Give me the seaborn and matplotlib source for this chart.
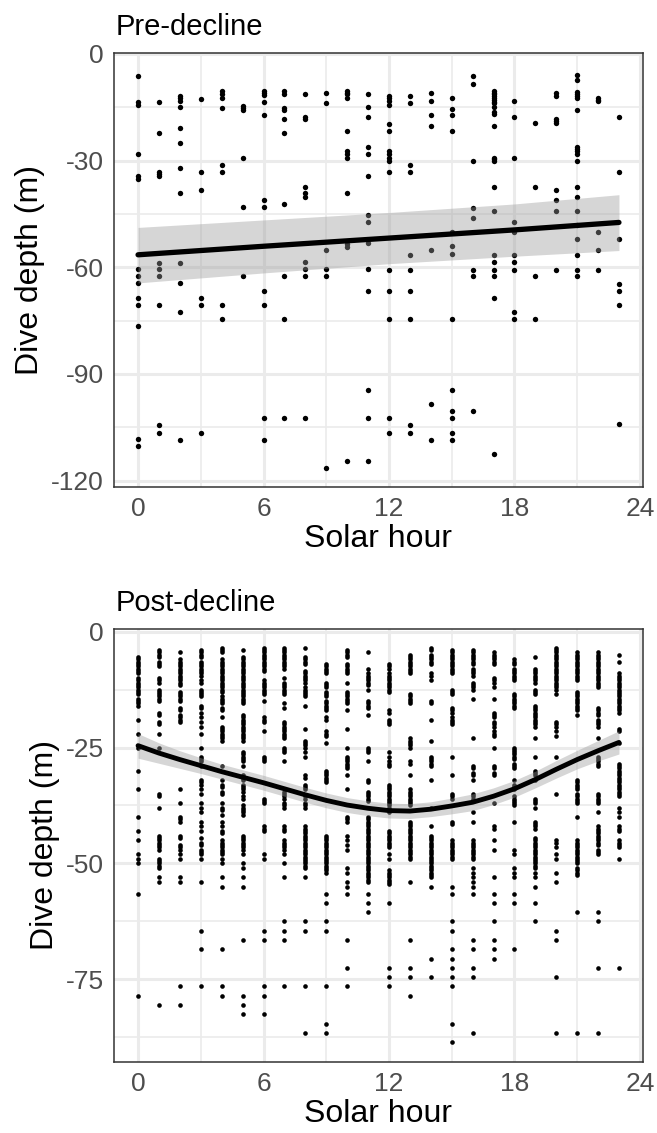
"""
Dive depth by solar hour, before and after the decline.
Two stacked panels in a ggplot theme_bw look.
"""

import numpy as np
import pandas as pd
import matplotlib
matplotlib.use("Agg")
import matplotlib.pyplot as plt
import seaborn as sns
from matplotlib.ticker import FixedLocator

HOURS = list(range(24))

# ---- Pre-decline dives (depth in m), one list per solar hour ----
PRE_00 = [-6.3, -13.4, -14.3, -28.2, -34.3, -35.2, -60.6, -62.6, -64.5, -68.6, -70.6, -76.6, -108.4, -110.4]
PRE_01 = [-13.4, -22.2, -33.1, -33.7, -34.4, -58.7, -60.6, -62.6, -70.6, -104.4, -106.5]
PRE_02 = [-11.8, -12.4, -13.3, -14.8, -20.8, -25.2, -32.2, -39.2, -58.7, -64.5, -72.6, -108.5]
PRE_03 = [-12.8, -33.2, -38.3, -68.6, -70.6, -106.5]
PRE_04 = [-10.3, -11.4, -12.4, -15.3, -31.2, -33.2, -70.6, -74.6]
PRE_05 = [-14.7, -15.3, -15.8, -29.2, -43.1, -62.6]
PRE_06 = [-10.3, -11.0, -11.7, -13.4, -17.3, -41.2, -43.1, -66.6, -70.6, -102.4, -108.5]
PRE_07 = [-10.3, -11.4, -15.3, -15.8, -18.3, -22.2, -42.2, -62.6, -74.6, -102.4]
PRE_08 = [-11.4, -17.8, -18.3, -37.3, -39.2, -40.2, -58.6, -60.6, -62.6, -102.4]
PRE_09 = [-10.9, -13.9, -55.2, -60.6, -62.6, -116.5]
PRE_10 = [-10.3, -10.9, -11.4, -12.4, -21.8, -27.2, -28.2, -29.2, -39.2, -53.6, -54.2, -114.4]
PRE_11 = [-11.4, -14.8, -17.8, -26.3, -28.2, -34.3, -45.2, -47.2, -53.2, -60.6, -66.6, -94.5, -102.4, -114.4]
PRE_12 = [-11.8, -12.4, -13.3, -14.3, -19.8, -21.8, -27.3, -28.2, -29.2, -30.2, -33.3, -60.7, -66.6, -74.6,
          -102.4, -106.5]
PRE_13 = [-11.8, -13.9, -31.2, -33.3, -56.6, -60.7, -66.6, -74.6, -104.5, -106.5]
PRE_14 = [-10.9, -13.3, -17.3, -20.3, -55.2, -98.5, -108.5]
PRE_15 = [-12.4, -15.4, -17.3, -21.8, -50.2, -54.1, -56.4, -74.6, -94.5, -100.4, -102.4, -106.5, -108.5]
PRE_16 = [-6.3, -8.4, -30.2, -43.2, -46.2, -60.7, -62.6, -100.4]
PRE_17 = [-10.3, -10.9, -11.4, -11.8, -12.4, -12.9, -13.4, -13.9, -14.8, -16.3, -16.9, -20.3, -29.2, -29.7,
          -30.2, -37.3, -44.2, -56.6, -58.6, -60.7, -62.6, -68.6, -112.5]
PRE_18 = [-13.3, -17.8, -29.2, -47.2, -50.2, -56.6, -58.6, -60.7, -72.6, -74.6]
PRE_19 = [-19.3, -37.3, -62.6, -74.6]
PRE_20 = [-10.9, -11.8, -18.3, -18.8, -19.3, -38.2, -41.2, -44.2, -60.7]
PRE_21 = [-5.9, -7.3, -10.8, -11.4, -11.8, -12.4, -15.8, -26.2, -26.7, -27.3, -28.2, -30.2, -37.3, -40.2,
          -44.2, -48.2, -52.1, -56.6, -60.7, -62.6]
PRE_22 = [-12.4, -12.9, -13.3, -50.2, -55.2, -60.7]
PRE_23 = [-17.8, -33.3, -52.1, -64.6, -66.6, -70.6, -104.0]

# linear fit and its confidence band
PRE_FIT_HOUR = [0, 6, 12, 18, 23]
PRE_FIT = [-56.5, -54.1, -51.8, -49.5, -47.4]
PRE_HIGH = [-48.8, -46.7, -44.6, -42.2, -39.6]
PRE_LOW = [-64.4, -61.6, -59.0, -56.9, -55.3]

# ---- Post-decline dives (depth in m), one list per solar hour ----
POST_00 = [-5.5, -6, -6.5, -7, -7.5, -8, -8.5, -9, -10, -10.5, -11, -11.5, -12, -12.5, -13, -13.5, -14.5, -15,
           -15.5, -16, -19, -22, -25, -30, -34, -40, -43, -45, -48, -49, -50, -56.5, -78.5]
POST_01 = [-4, -4.5, -5, -5.5, -6.5, -7, -7.5, -10, -10.5, -11, -12.5, -13, -13.5, -14, -14.5, -15, -17.5, -18,
           -19.5, -20, -22, -25, -35, -35.5, -38, -44, -44.5, -45, -45.5, -46, -46.5, -47, -49, -49.5, -50,
           -50.5, -51, -53, -54, -80.5]
POST_02 = [-4.5, -6, -6.5, -7, -7.5, -8, -8.5, -9, -9.5, -10, -10.5, -11, -11.5, -13, -13.5, -14, -14.5, -15,
           -16.5, -17, -18, -18.5, -19, -19.5, -34, -37, -40, -40.5, -41, -44, -44.5, -46, -46.5, -47, -48, -49,
           -53, -54, -76.5, -80.5]
POST_03 = [-4, -4.5, -5, -5.5, -6.5, -7, -7.5, -8, -8.5, -9, -9.5, -10.5, -11, -12.5, -13, -13.5, -14, -16,
           -16.5, -17.5, -18.5, -19.5, -20.5, -22, -25, -27, -27.5, -28, -29, -32, -32.5, -33, -34, -35, -37,
           -38, -39, -41, -42, -43, -44.5, -45.5, -46, -47, -47.5, -48, -49, -54, -64.5, -68.5, -76.5]
POST_04 = [-3.5, -4, -4.5, -6, -6.5, -7, -7.5, -8, -8.5, -9, -9.5, -10, -10.5, -11, -11.5, -12, -12.5, -13,
           -14, -14.5, -15, -15.5, -16.5, -17, -18.5, -20.5, -21, -21.5, -22, -22.5, -23, -23.5, -29, -32, -33,
           -33.5, -34.5, -35, -37, -38, -38.5, -39.5, -41, -42, -43, -43.5, -45, -45.5, -46, -46.5, -47, -47.5,
           -48, -49, -50, -53, -55, -68.5, -76.5, -78.5]
POST_05 = [-4, -5.5, -6, -6.5, -7, -7.5, -8, -8.5, -9, -9.5, -10, -10.5, -11, -11.5, -12, -12.5, -13, -13.5,
           -14, -14.5, -15, -15.5, -18, -18.5, -19, -19.5, -20, -20.5, -21, -21.5, -22, -22.5, -23, -23.5, -26,
           -26.5, -27, -27.5, -28, -29, -31, -31.5, -32, -33, -33.5, -34, -34.5, -35.5, -36, -37.5, -38, -38.5,
           -39, -39.5, -44, -44.5, -45, -45.5, -46, -46.5, -47, -48, -50, -51, -53, -55, -66.5, -78.5, -80.5,
           -82.5]
POST_06 = [-3.5, -4, -4.5, -5, -5.5, -6, -6.5, -7, -7.5, -8, -8.5, -10.5, -11, -11.5, -12, -12.5, -13, -13.5,
           -15, -18.5, -19, -19.5, -21.5, -27, -27.5, -28, -36, -36.5, -37, -42, -42.5, -43, -48, -49, -64.5,
           -66.5, -76.5, -78.5, -82.5]
POST_07 = [-3.5, -4, -4.5, -5, -5.5, -6, -6.5, -7, -7.5, -8, -10, -11, -11.5, -12, -12.5, -13, -13.5, -15.5,
           -16.5, -19.5, -20, -20.5, -21, -21.5, -22, -22.5, -23, -25, -25.5, -26, -28, -34.5, -35, -35.5, -36,
           -37, -37.5, -38, -42, -42.5, -43, -45, -45.5, -46, -46.5, -47, -48, -50, -53, -62.5, -64.5, -66.5,
           -76.5]
POST_08 = [-3.5, -5.5, -6, -6.5, -7, -8.5, -9, -9.5, -10, -10.5, -11, -12, -12.5, -13, -13.5, -14, -16, -21,
           -23.5, -24, -24.5, -25, -26, -27, -31, -31.5, -33, -33.5, -34, -35.5, -36, -37, -37.5, -38, -42,
           -42.5, -43, -43.5, -44, -44.5, -45, -45.5, -46, -46.5, -47, -47.5, -48, -48.5, -49, -49.5, -50,
           -50.5, -51, -53, -62.5, -64.5, -76.5, -86.5]
POST_09 = [-7, -7.5, -8, -8.5, -9, -11, -11.5, -12, -13, -13.5, -14, -15, -15.5, -16, -16.5, -17, -18.5, -19,
           -21.5, -22, -22.5, -24, -30, -30.5, -31, -31.5, -32, -32.5, -44, -44.5, -45, -45.5, -46, -46.5, -47,
           -47.5, -48, -48.5, -49, -49.5, -50, -50.5, -51, -51.5, -52, -56.5, -58.5, -62.5, -64.5, -76.5,
           -84.5, -86.5]
POST_10 = [-4, -4.5, -5, -5.5, -7, -7.5, -8, -8.5, -9, -11, -13, -13.5, -14, -14.5, -15, -15.5, -17, -21, -25,
           -27, -27.5, -28, -28.5, -29, -29.5, -31, -34, -40, -40.5, -41, -44, -45, -46, -47, -51, -52, -54,
           -55, -56.5, -66.5, -72.5, -76.5]
POST_11 = [-4.5, -8, -9, -9.5, -10, -10.5, -11, -11.5, -12.5, -15, -15.5, -16, -16.5, -18, -25, -25.5, -26,
           -28, -32, -32.5, -34.5, -35, -35.5, -36, -36.5, -40, -40.5, -41, -41.5, -42, -42.5, -43, -43.5,
           -44, -44.5, -45, -45.5, -46, -46.5, -47, -47.5, -48, -48.5, -49, -49.5, -50, -50.5, -51, -51.5,
           -52, -52.5, -53, -53.5, -54, -56.5, -58.5, -60.5]
POST_12 = [-7, -7.5, -8, -9, -9.5, -10, -10.5, -11, -11.5, -12, -12.5, -13, -17, -17.5, -19, -19.5, -20, -26,
           -27, -28, -28.5, -29, -33, -33.5, -34, -34.5, -35, -35.5, -36, -36.5, -37, -37.5, -38, -38.5, -39,
           -43, -43.5, -44, -44.5, -45, -45.5, -46, -46.5, -48, -49, -51.5, -52, -52.5, -53, -53.5, -54,
           -54.5, -58.5, -72.5, -74.5, -76.5]
POST_13 = [-5, -5.5, -6, -6.5, -7, -7.5, -8, -8.5, -9, -13.5, -14, -14.5, -15, -15.5, -23, -23.5, -24, -24.5,
           -25, -28, -28.5, -31, -34, -34.5, -35, -35.5, -36, -36.5, -37, -37.5, -41, -41.5, -42, -42.5, -43,
           -43.5, -44, -44.5, -45, -45.5, -46, -46.5, -47, -47.5, -48, -48.5, -49, -54, -66.5, -72.5, -74.5,
           -78.5]
POST_14 = [-3.5, -4, -5, -5.5, -6, -6.5, -7, -9, -9.5, -10.5, -15, -15.5, -19, -23.5, -27, -27.5, -28, -28.5,
           -29, -32, -38, -42, -44, -44.5, -45, -45.5, -46, -46.5, -47, -47.5, -48, -48.5, -49, -49.5, -50,
           -50.5, -51, -51.5, -52, -52.5, -53, -55, -70.5, -74.5]
POST_15 = [-4, -4.5, -5, -5.5, -6, -6.5, -7, -7.5, -8, -8.5, -9, -12.5, -13, -13.5, -16.5, -17, -17.5, -18.5,
           -19, -19.5, -20, -27, -31, -35, -35.5, -36, -41, -41.5, -45, -45.5, -46, -46.5, -47, -47.5, -48,
           -48.5, -49, -55, -56.5, -62.5, -64.5, -68.5, -70.5, -72.5, -74.5, -76.5, -84.5, -88.5]
POST_16 = [-4, -4.5, -5, -5.5, -6, -6.5, -7, -8, -8.5, -9, -9.5, -11, -11.5, -12, -12.5, -14.5, -23, -29,
           -29.5, -30.5, -31, -32, -35, -35.5, -36, -39, -41, -45, -45.5, -46, -46.5, -47, -47.5, -48, -48.5,
           -49, -51, -52, -53, -54, -55, -56.5, -66.5, -68.5, -72.5, -74.5, -86.5]
POST_17 = [-4.5, -5, -5.5, -6, -6.5, -7, -10, -10.5, -11, -12, -14.5, -17.5, -18, -18.5, -19.5, -20, -20.5,
           -21.5, -22, -22.5, -25, -29, -29.5, -30.5, -31, -37, -42, -42.5, -45, -47, -53, -56.5, -58.5, -62.5,
           -66.5, -68.5, -70.5]
POST_18 = [-6, -6.5, -7, -8, -8.5, -9, -9.5, -10, -10.5, -13.5, -14, -14.5, -15, -15.5, -16, -16.5, -25,
           -25.5, -26, -26.5, -27, -27.5, -28.5, -29, -29.5, -32, -33, -33.5, -34, -35.5, -36, -36.5, -37,
           -37.5, -41, -47, -48, -51, -52, -53, -56.5, -58.5, -68.5]
POST_19 = [-5.5, -8, -8.5, -9, -9.5, -10, -10.5, -11, -12.5, -13, -13.5, -16, -16.5, -17, -17.5, -18, -18.5,
           -19, -19.5, -20, -20.5, -23, -27, -30, -30.5, -31, -32, -36, -36.5, -37, -38, -41, -41.5, -42,
           -42.5, -44.5, -45, -45.5, -46, -46.5, -47, -47.5, -48, -48.5, -49, -49.5, -50, -50.5, -51, -52,
           -53, -55, -58.5, -62.5]
POST_20 = [-3.5, -4, -4.5, -5, -5.5, -6, -6.5, -7, -7.5, -8, -8.5, -9, -9.5, -10, -10.5, -11, -11.5, -12,
           -12.5, -13.5, -19.5, -20, -20.5, -21.5, -22.5, -27, -35, -45, -45.5, -46.5, -48, -49, -52, -54,
           -64.5, -66.5, -74.5, -86.5]
POST_21 = [-4.5, -5, -5.5, -6, -6.5, -7, -7.5, -8, -8.5, -9, -9.5, -10, -10.5, -13, -13.5, -14, -14.5, -15,
           -15.5, -16, -16.5, -17, -18, -32, -32.5, -33, -33.5, -34, -35, -35.5, -36, -36.5, -37, -40, -45,
           -45.5, -46, -46.5, -47, -47.5, -48, -48.5, -49, -49.5, -50, -51, -51.5, -52, -52.5, -60.5, -86.5]
POST_22 = [-4.5, -5, -5.5, -6, -6.5, -7, -7.5, -8, -8.5, -9, -9.5, -10, -10.5, -11, -11.5, -12, -16.5, -17,
           -17.5, -18, -19, -19.5, -20, -20.5, -23, -27, -27.5, -28, -28.5, -29, -35, -35.5, -36, -36.5, -37,
           -39, -42, -42.5, -43, -43.5, -44, -44.5, -45, -45.5, -46, -47, -47.5, -48, -60.5, -62.5, -72.5,
           -86.5]
POST_23 = [-5, -6.5, -9, -9.5, -10, -10.5, -11, -11.5, -12, -12.5, -13, -13.5, -14, -14.5, -15, -15.5, -16,
           -16.5, -17, -17.5, -21, -21.5, -24, -28.5, -29, -29.5, -30, -30.5, -31, -31.5, -32, -32.5, -33,
           -33.5, -34, -34.5, -35, -35.5, -38, -39, -40, -42, -42.5, -43, -45, -45.5, -46, -46.5, -49, -72.5]

# smooth fit and its confidence band, one value per hour
POST_FIT = [-24.6, -26.2, -27.6, -28.9, -30.2, -31.4, -32.6, -33.9, -35.2, -36.4, -37.4, -38.1, -38.6,
            -38.7, -38.3, -37.6, -36.8, -35.5, -33.9, -31.9, -29.7, -27.6, -25.7, -23.9]
POST_HIGH = [-22.0, -24.0, -25.7, -27.2, -28.6, -29.8, -31.0, -32.3, -33.6, -34.8, -35.8, -36.5, -37.0,
             -37.1, -36.7, -35.9, -35.0, -33.7, -32.1, -30.1, -27.8, -25.6, -23.5, -21.4]
POST_LOW = [-27.3, -28.4, -29.5, -30.6, -31.8, -33.0, -34.2, -35.5, -36.8, -38.0, -39.0, -39.7, -40.2,
            -40.3, -39.9, -39.3, -38.6, -37.3, -35.7, -33.7, -31.6, -29.6, -27.9, -26.4]

PRE_COLS = [PRE_00, PRE_01, PRE_02, PRE_03, PRE_04, PRE_05, PRE_06, PRE_07, PRE_08, PRE_09, PRE_10, PRE_11,
            PRE_12, PRE_13, PRE_14, PRE_15, PRE_16, PRE_17, PRE_18, PRE_19, PRE_20, PRE_21, PRE_22, PRE_23]
POST_COLS = [POST_00, POST_01, POST_02, POST_03, POST_04, POST_05, POST_06, POST_07, POST_08, POST_09,
             POST_10, POST_11, POST_12, POST_13, POST_14, POST_15, POST_16, POST_17, POST_18, POST_19,
             POST_20, POST_21, POST_22, POST_23]


def to_frame(cols):
    rows = [(h, d) for h, col in zip(HOURS, cols) for d in col]
    return pd.DataFrame(rows, columns=["hour", "depth"])


sns.set_theme(style="white")
plt.rcParams["font.family"] = ["Liberation Sans", "DejaVu Sans"]
plt.rcParams["axes.unicode_minus"] = False

W, H = 657, 1133
fig = plt.figure(figsize=(W / 100, H / 100), dpi=100)
fig.patch.set_facecolor("white")

LEFT = 114 / W
WIDTH = (643 - 114) / W


def draw_panel(ax, df, fit_h, fit, lo, hi, ylim, yticks, yminor, pt_size, lw):
    ax.set_facecolor("white")
    ax.set_xlim(-1.15, 24.15)
    ax.set_ylim(*ylim)
    ax.xaxis.set_major_locator(FixedLocator([0, 6, 12, 18, 24]))
    ax.xaxis.set_minor_locator(FixedLocator([3, 9, 15, 21]))
    ax.yaxis.set_major_locator(FixedLocator(yticks))
    ax.yaxis.set_minor_locator(FixedLocator(yminor))
    ax.set_axisbelow(True)
    ax.grid(which="major", color="#EBEBEB", linewidth=2.2)
    ax.grid(which="minor", color="#EBEBEB", linewidth=1.2)

    sns.scatterplot(data=df, x="hour", y="depth", ax=ax, color="black", s=pt_size,
                    linewidth=0, zorder=3, legend=False)
    ax.fill_between(fit_h, lo, hi, color="#999999", alpha=0.4, linewidth=0, zorder=4)
    sns.lineplot(x=fit_h, y=fit, ax=ax, color="black", linewidth=lw, zorder=5)

    for sp in ax.spines.values():
        sp.set_color("#333333")
        sp.set_linewidth(1.1)
    ax.tick_params(which="major", length=5, width=1.1, color="#333333", pad=2.5,
                   labelsize=19, labelcolor="#4D4D4D")
    ax.tick_params(which="minor", length=0)
    ax.set_xlabel("Solar hour", fontsize=23, color="black", labelpad=2)
    ax.set_ylabel("Dive depth (m)", fontsize=23, color="black", labelpad=4)


ax1 = fig.add_axes([LEFT, 1 - 487 / H, WIDTH, (487 - 53) / H])
draw_panel(ax1, to_frame(PRE_COLS), PRE_FIT_HOUR, PRE_FIT, PRE_LOW, PRE_HIGH,
           (-121.8, 0.25), [0, -30, -60, -90, -120], [-15, -45, -75, -105], 15, 3.8)

ax2 = fig.add_axes([LEFT, 1 - 1062 / H, WIDTH, (1062 - 629) / H])
draw_panel(ax2, to_frame(POST_COLS), HOURS, POST_FIT, POST_LOW, POST_HIGH,
           (-92.8, 0.55), [0, -25, -50, -75], [-12.5, -37.5, -62.5, -87.5], 11, 3.5)

fig.text(LEFT + 2 / W, 1 - 35 / H, "Pre-decline", ha="left", va="baseline", fontsize=21, color="black")
fig.text(LEFT + 2 / W, 1 - 611 / H, "Post-decline", ha="left", va="baseline", fontsize=21, color="black")

fig.savefig("out.png", dpi=100, facecolor="white")
